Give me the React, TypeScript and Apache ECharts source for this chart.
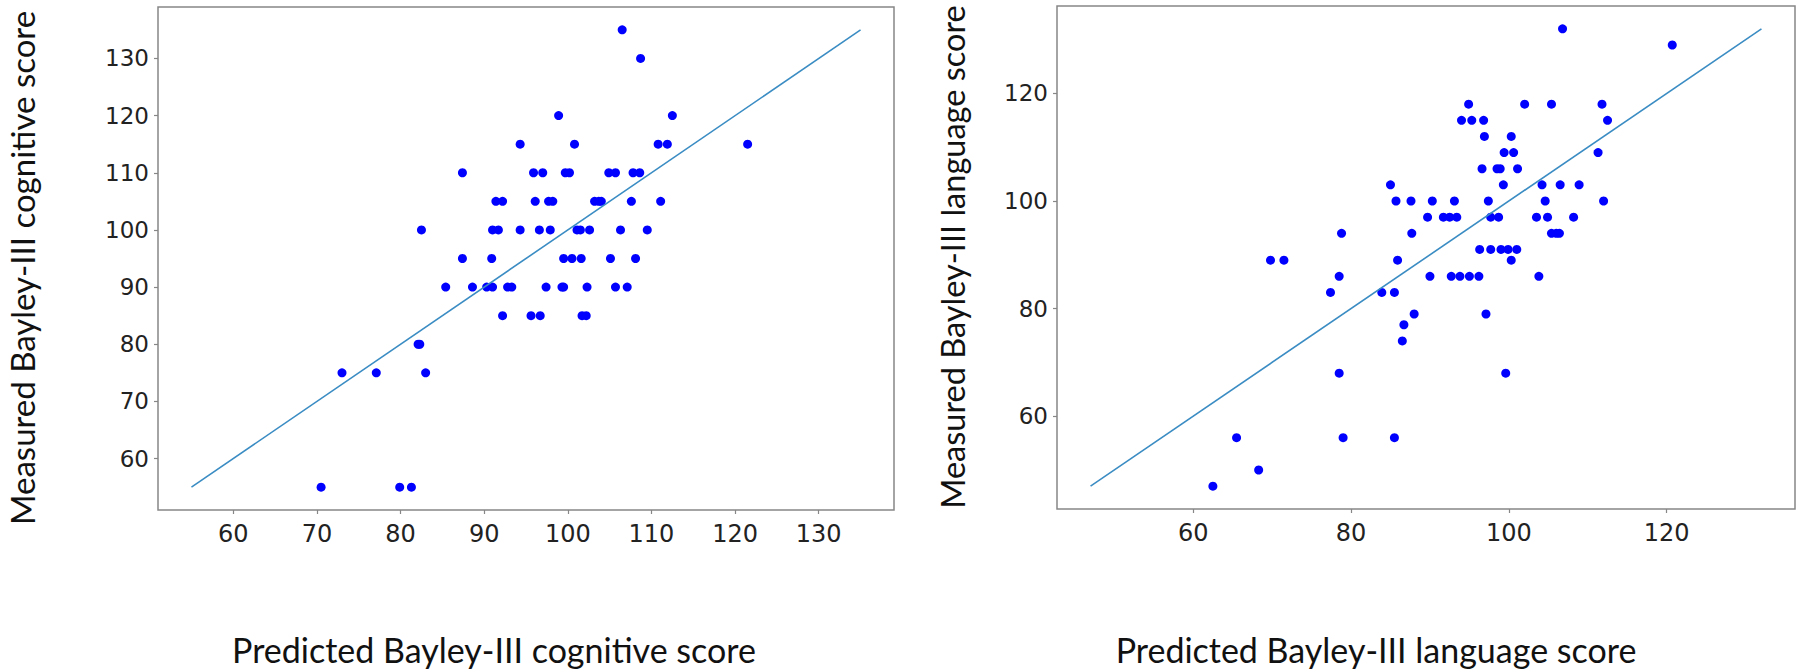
import React, { useEffect, useRef } from "react";
import * as echarts from "echarts";

// ---- Cognitive panel data ----
const predictedCognitive = [
  106.5,
  108.7,
  98.9, 112.5,
  94.3, 100.8, 110.8, 111.9, 121.5,
  87.4, 95.9, 97.0, 99.7, 100.2, 104.9, 105.7, 107.8, 108.6,
  91.4, 92.2, 96.1, 97.7, 98.2, 103.2, 103.7, 104.0, 107.6, 111.1,
  82.5, 91.0, 91.7, 94.3, 96.6, 97.9, 101.1, 101.5, 102.6, 106.3, 109.5,
  87.4, 90.9, 99.5, 100.5, 101.6, 105.1, 108.1,
  85.4, 88.6, 90.3, 91.0, 92.8, 93.3, 97.4, 99.3, 99.5, 102.3, 105.7, 107.1,
  92.2, 95.6, 96.7, 101.7, 102.2,
  82.1, 82.3,
  73.0, 77.1, 83.0,
  70.5, 79.9, 81.3,
];
const measuredCognitive = [
  135,
  130,
  120, 120,
  115, 115, 115, 115, 115,
  110, 110, 110, 110, 110, 110, 110, 110, 110,
  105, 105, 105, 105, 105, 105, 105, 105, 105, 105,
  100, 100, 100, 100, 100, 100, 100, 100, 100, 100, 100,
  95, 95, 95, 95, 95, 95, 95,
  90, 90, 90, 90, 90, 90, 90, 90, 90, 90, 90, 90,
  85, 85, 85, 85, 85,
  80, 80,
  75, 75, 75,
  55, 55, 55,
];
const cognitiveLineX = [55, 135];
const cognitiveLineY = [55, 135];
const cognitiveTicks = [60, 70, 80, 90, 100, 110, 120, 130];
const cognitiveRange = [51, 139];

// ---- Language panel data ----
const predictedLanguage = [
  106.8,
  120.7,
  94.9, 102.0, 105.4, 111.8,
  94.0, 95.3, 96.8, 112.5,
  96.9, 100.3,
  99.4, 100.6, 111.3,
  96.6, 98.5, 98.9, 101.1,
  85.0, 99.3, 104.2, 106.5, 108.9,
  85.7, 87.6, 90.3, 93.1, 97.4, 104.6, 112.0,
  89.7, 91.7, 92.5, 93.4, 97.7, 98.7, 103.5, 104.9, 108.2,
  78.8, 87.7, 105.4, 106.0, 106.4,
  96.3, 97.7, 99.0, 99.9, 101.0,
  69.8, 71.5, 85.9, 100.3,
  78.5, 90.0, 92.7, 93.8, 95.0, 96.2, 103.8,
  77.4, 83.9, 85.5,
  88.0, 97.1,
  86.7,
  86.5,
  78.5, 99.6,
  65.5, 79.0, 85.5,
  68.3,
  62.5,
];
const measuredLanguage = [
  132,
  129,
  118, 118, 118, 118,
  115, 115, 115, 115,
  112, 112,
  109, 109, 109,
  106, 106, 106, 106,
  103, 103, 103, 103, 103,
  100, 100, 100, 100, 100, 100, 100,
  97, 97, 97, 97, 97, 97, 97, 97, 97,
  94, 94, 94, 94, 94,
  91, 91, 91, 91, 91,
  89, 89, 89, 89,
  86, 86, 86, 86, 86, 86, 86,
  83, 83, 83,
  79, 79,
  77,
  74,
  68, 68,
  56, 56, 56,
  50,
  47,
];
const languageLineX = [47, 132];
const languageLineY = [47, 132];
const languageTicks = [60, 80, 100, 120];
const languageRange = [42.75, 136.25];

// ---- Labels ----
const cognitiveXTitle = "Predicted Bayley-III cognitive score";
const cognitiveYTitle = "Measured Bayley-III cognitive score";
const languageXTitle = "Predicted Bayley-III language score";
const languageYTitle = "Measured Bayley-III language score";

const zip = (xs: number[], ys: number[]) => xs.map((x, i) => [x, ys[i]]);

const FRAME = "#878787";
const TICK_FONT = "DejaVu Sans";
const TITLE_FONT = "Lato";

function valueAxis(range: number[], ticks: number[], gridIndex: number, isY: boolean) {
  return {
    type: "value",
    gridIndex,
    min: range[0],
    max: range[1],
    splitLine: { show: false },
    axisLine: { show: false },
    axisTick: {
      show: true,
      customValues: ticks,
      length: 4,
      lineStyle: { color: FRAME, width: 1.2 },
    },
    axisLabel: {
      show: true,
      customValues: ticks,
      fontFamily: TICK_FONT,
      fontSize: isY ? 23 : 24,
      color: "#222",
      margin: isY ? 9 : 12,
      showMinLabel: true,
      showMaxLabel: true,
    },
  };
}

export default function App() {
  const ref = useRef<HTMLDivElement>(null);

  useEffect(() => {
    if (!ref.current) return;
    const chart = echarts.init(ref.current, null, { renderer: "svg" });
    chart.setOption({
      animation: false,
      backgroundColor: "#ffffff",
      grid: [
        {
          left: 158,
          top: 7,
          width: 736,
          height: 503,
          show: true,
          borderColor: FRAME,
          borderWidth: 1.5,
          backgroundColor: "transparent",
        },
        {
          left: 1057,
          top: 6,
          width: 738,
          height: 503,
          show: true,
          borderColor: FRAME,
          borderWidth: 1.5,
          backgroundColor: "transparent",
        },
      ],
      xAxis: [
        valueAxis(cognitiveRange, cognitiveTicks, 0, false),
        valueAxis(languageRange, languageTicks, 1, false),
      ],
      yAxis: [
        valueAxis(cognitiveRange, cognitiveTicks, 0, true),
        valueAxis(languageRange, languageTicks, 1, true),
      ],
      series: [
        {
          type: "scatter",
          xAxisIndex: 0,
          yAxisIndex: 0,
          data: zip(predictedCognitive, measuredCognitive),
          symbol: "circle",
          symbolSize: 9,
          itemStyle: { color: "#0000ff", opacity: 1 },
          z: 2,
        },
        {
          type: "line",
          xAxisIndex: 0,
          yAxisIndex: 0,
          data: zip(cognitiveLineX, cognitiveLineY),
          showSymbol: false,
          symbol: "none",
          lineStyle: { color: "#3a8cc3", width: 1.6 },
          z: 3,
        },
        {
          type: "scatter",
          xAxisIndex: 1,
          yAxisIndex: 1,
          data: zip(predictedLanguage, measuredLanguage),
          symbol: "circle",
          symbolSize: 9,
          itemStyle: { color: "#0000ff", opacity: 1 },
          z: 2,
        },
        {
          type: "line",
          xAxisIndex: 1,
          yAxisIndex: 1,
          data: zip(languageLineX, languageLineY),
          showSymbol: false,
          symbol: "none",
          lineStyle: { color: "#3a8cc3", width: 1.6 },
          z: 3,
        },
      ],
      graphic: [
        {
          type: "text",
          x: 494,
          y: 649,
          style: {
            text: cognitiveXTitle,
            font: `34px ${TITLE_FONT}`,
            fill: "#111",
            align: "center",
            verticalAlign: "middle",
          },
        },
        {
          type: "text",
          x: 1376,
          y: 649,
          style: {
            text: languageXTitle,
            font: `34px ${TITLE_FONT}`,
            fill: "#111",
            align: "center",
            verticalAlign: "middle",
          },
        },
        {
          type: "text",
          x: 22,
          y: 268,
          rotation: Math.PI / 2,
          style: {
            text: cognitiveYTitle,
            font: `33px ${TITLE_FONT}`,
            fill: "#111",
            align: "center",
            verticalAlign: "middle",
          },
        },
        {
          type: "text",
          x: 952,
          y: 257,
          rotation: Math.PI / 2,
          style: {
            text: languageYTitle,
            font: `32.5px ${TITLE_FONT}`,
            fill: "#111",
            align: "center",
            verticalAlign: "middle",
          },
        },
      ],
    });
    return () => chart.dispose();
  }, []);

  return (
    <div
      ref={ref}
      style={{ position: "fixed", left: 0, top: 0, width: 1800, height: 671, background: "#fff" }}
    />
  );
}
